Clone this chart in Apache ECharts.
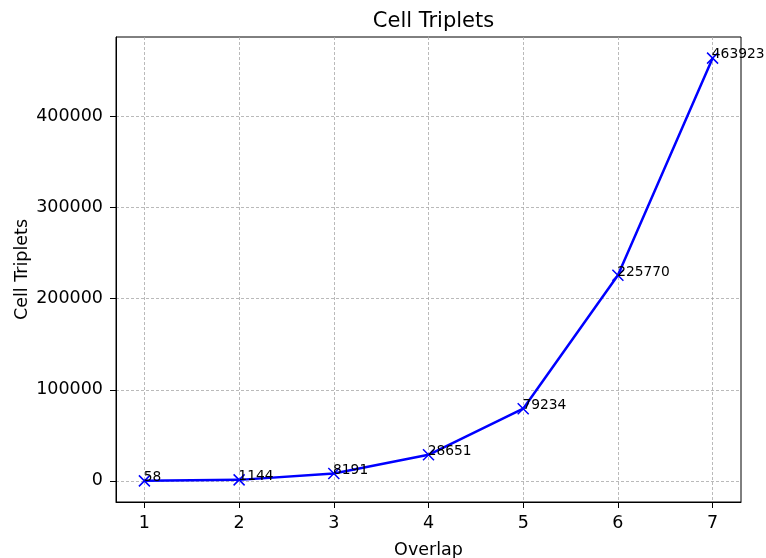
<!DOCTYPE html>
<html><head><meta charset="utf-8">
<script src="https://cdn.jsdelivr.net/npm/echarts@6/dist/echarts.min.js"></script>
<style>html,body{margin:0;padding:0;background:#fff}#c{width:766px;height:558px}</style>
</head><body><div id="c"></div>
<script>
const overlap = [1, 2, 3, 4, 5, 6, 7];
const triplets = [58, 1144, 8191, 28651, 79234, 225770, 463923];
const xTicks = [1, 2, 3, 4, 5, 6, 7];
const yTicks = [0, 100000, 200000, 300000, 400000];

const F = 'DejaVu Sans';
const chart = echarts.init(document.getElementById('c'), null, {renderer: 'canvas'});
const gridLine = {show: true, lineStyle: {color: '#a8a8a8', width: 0.8, type: [3, 2]}};
chart.setOption({
  animation: false,
  backgroundColor: '#fff',
  title: {text: 'Cell Triplets', left: 428.5, top: 6, textAlign: 'center',
    textStyle: {fontFamily: F, fontSize: 21, fontWeight: 'normal', color: '#000'}},
  grid: {left: 116, right: 25, top: 37, bottom: 56, show: true, borderColor: '#000', borderWidth: 1,
    containLabel: false, outerBoundsMode: 'none'},
  xAxis: {
    type: 'value', min: 0.7, max: 7.3,
    name: 'Overlap', nameLocation: 'middle', nameGap: 39, nameMoveOverlap: false,
    nameTextStyle: {fontFamily: F, fontSize: 17.5, color: '#000'},
    axisLine: {show: true, onZero: false, lineStyle: {color: '#000', width: 1}},
    axisTick: {show: true, length: 6, inside: false, customValues: xTicks, lineStyle: {color: '#000'}},
    axisLabel: {customValues: xTicks, fontFamily: F, fontSize: 17.5, color: '#000', margin: 12},
    splitLine: gridLine
  },
  yAxis: {
    type: 'value', min: -23135, max: 487116,
    name: 'Cell Triplets', nameLocation: 'middle', nameGap: 85, nameRotate: 90, nameMoveOverlap: false,
    nameTextStyle: {fontFamily: F, fontSize: 17.5, color: '#000'},
    axisLine: {show: true, onZero: false, lineStyle: {color: '#000', width: 1}},
    axisTick: {show: true, length: 6, inside: false, customValues: yTicks, lineStyle: {color: '#000'}},
    axisLabel: {customValues: yTicks, fontFamily: F, fontSize: 17.5, color: '#000', margin: 13,
      formatter: v => String(v)},
    splitLine: gridLine
  },
  series: [{
    type: 'line',
    data: overlap.map((x, i) => [x, triplets[i]]),
    lineStyle: {color: '#0000ff', width: 2.5},
    symbol: 'path://M0,0L10,10M10,0L0,10',
    symbolSize: 11,
    showAllSymbol: true,
    itemStyle: {color: '#0000ff', borderColor: '#0000ff', borderWidth: 1.5},
    label: {show: true, position: [5.5, 10], align: 'left', verticalAlign: 'bottom',
      fontFamily: F, fontSize: 13.8, color: '#000', formatter: p => String(p.value[1])},
    z: 3
  }]
});
</script></body></html>
